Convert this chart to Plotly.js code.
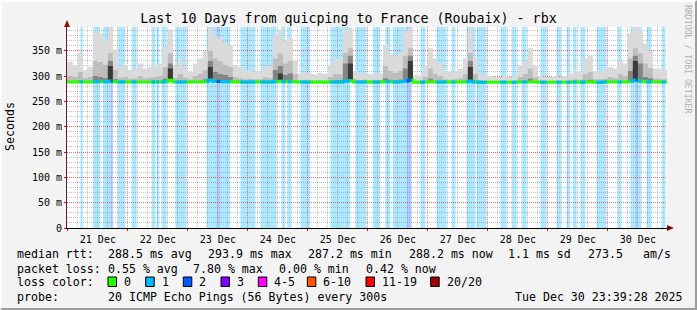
<!DOCTYPE html>
<html><head><meta charset="utf-8">
<script src="https://cdn.plot.ly/plotly-3.0.1.min.js"></script>
<style>
html,body{margin:0;padding:0;background:#f3f3f3}
#wrap{position:relative;width:697px;height:310px;overflow:hidden}
#chart{width:697px;height:310px}
#frame{position:absolute;left:0;top:0;width:697px;height:310px;box-sizing:border-box;border-top:2px solid #fcfcfc;border-left:2px solid #fcfcfc;border-right:2px solid #9c9c9c;border-bottom:2px solid #9c9c9c;pointer-events:none}
</style>
</head><body><div id="wrap"><div id="chart"></div><div id="frame"></div></div>
<script>
// ---- data (ms) : 2-hour bins starting 2025-12-20 22:00 ----
const binStartTime = '2025-12-20T22:00:00Z';
const binHours = 2;
const smokeMax = [
 328,328,320,346,312,318,390,385,371,395,
 352,318,322,312,315,325,315,318,322,325,
 360,392,320,335,318,308,325,335,350,395,
 380,375,365,360,322,318,310,312,308,310,
 320,318,380,392,370,375,330,305,308,305,
 303,306,304,320,335,334,392,395,310,305,
 306,304,306,305,362,345,340,345,390,395,
 302,300,320,355,335,325,310,308,310,315,
 335,392,335,305,302,300,298,298,300,298,
 300,322,330,355,320,300,298,298,300,298,
 300,305,310,308,335,340,310,310,312,318,
 315,330,325,385,397,390,365,350,315,315,
 312];
const smokeMid = [
 300,300,298,308,296,298,330,328,322,345,
 312,297,298,295,296,300,296,297,298,300,
 318,345,297,304,297,294,300,304,312,350,
 335,330,322,318,298,296,294,295,294,294,
 298,296,335,345,325,330,304,292,293,292,
 291,292,291,298,304,304,345,355,294,292,
 293,292,293,293,320,310,306,310,340,355,
 291,291,298,315,304,300,294,293,294,296,
 304,345,304,292,291,291,290.5,290.5,291,290.5,
 291,298,304,315,298,291,290.5,290.5,291,290.5,
 291,293,294,293,304,308,294,294,295,298,
 296,304,300,335,355,345,325,316,296,295,
 294];
const smokeDark = [
 290,290,289.5,292,289.5,289.5,300,298,296,330,
 294,289.5,289.5,289,289,290,289.5,289.5,289.5,290,
 295,325,289.5,291,289.5,289,289.5,291,294,330,
 308,304,302,298,289.5,289.5,289,289,289,289,
 289.5,289.5,312,320,302,305,291,289,289,289,
 289,289,289,290,292,292,325,340,289,289,
 289,289,289,289,296,293,291,293,315,340,
 289,289,290,295,291,290,289,289,289,289.5,
 291,330,291,289,289,289,289,289,289,289,
 289,290,291,295,290,289,289,289,289,289,
 289,289,290,289,291,293,289,289,289.5,290,
 289.5,291,290,310,340,325,298,296,289.5,289,
 289];
// darkest core of the smoke, only in the strongest spikes (bin index, top ms)
const coreBins = [9, 21, 29, 43, 57, 69, 81, 114];
const coreTop  = [320, 315, 318, 305, 325, 330, 318, 330];
const medianRtt = [
 288.5,288.5,288.4,288.6,288.5,288.5,289,289,289,290,
 288.8,288.5,288.5,288.4,288.4,288.5,288.5,288.4,288.5,288.5,
 289,292,288.6,288.5,288.4,288.3,288.4,288.5,289,292,
 290,289.5,289,289,288.5,288.4,288.3,288.3,288.3,288.3,
 288.4,288.4,289,290,289,289,288.6,288.2,288.2,288.2,
 288.1,288.2,288.1,288.4,288.6,288.6,290,291,288.3,288.2,
 288.2,288.1,288.2,288.2,289,288.8,288.6,288.8,290,292,
 288.1,288.1,288.3,288.6,288.4,288.3,288.2,288.2,288.2,288.3,
 288.6,290,288.5,288.1,288,288,288,288,288,288,
 288,288.2,288.4,288.6,288.2,288,288,288,288,288,
 288,288.1,288.2,288.1,288.4,288.5,288.1,288.1,288.2,288.3,
 288.2,288.4,288.4,289.5,292,290,288.8,288.6,288.2,288.2,
 288.2];
// loss periods: hours after 2025-12-21 00:00, and loss count
const lossStartH = [5,10,14,17,20,25.5,33.5,35.5,37.5,43, 55.5,59.5,61,69,77,85.5,88,93,105,115, 122,127,130,135.5,141,147.5,153.5,159.5,163.5,173, 177.5,181.5,189,195.5,199.5,202,205,211.5,220,225, 227,228,231.5,237.5];
const lossEndH   = [6,13,17,18,23,27.5,35,36.5,39.5,47.5, 59.5,61,65,75,83.5,87,89.5,97,113,119.5, 125,129,135.5,137.5,143,151.5,155,163,167.5,175.5, 179.5,183.5,191.5,197.5,201,203.5,207,215.5,221.5,227, 228,229.5,233.5,239];
const lossLevel  = [1,1,1,2,1,1,1,1,1,1, 1,2,1,1,1,1,1,1,1,1, 1,1,1,2,1,1,1,1,1,1, 1,1,1,1,1,1,1,1,1,1, 2,1,1,1];
const lossLegendLabels = ['0','1','2','3','4-5','6-10','11-19','20/20'];
const lossLegendColors = ['#26ff00','#00b8ff','#0059ff','#7e00ff','#ff00ff','#ff5500','#ff0000','#a10000'];
const lossBgColors = {1:'rgba(0,184,255,0.32)', 2:'rgba(0,89,255,0.32)'};
const yTickVals = [0,50,100,150,200,250,300,350];
const yTickText = ['0','50 m','100 m','150 m','200 m','250 m','300 m','350 m'];
const titleText = 'Last 10 Days from quicping to France (Roubaix) - rbx';
const statRtt  = ['median rtt:','288.5 ms avg','293.9 ms max','287.2 ms min','288.2 ms now','1.1 ms sd','273.5','am/s'];
const statLoss = ['packet loss:','0.55 % avg','7.80 % max','0.00 % min','0.42 % now'];
const probeText = ['probe:','20 ICMP Echo Pings (56 Bytes) every 300s','Tue Dec 30 23:39:28 2025'];

// ---- build ----
const H = 3600000;
const t0 = Date.parse('2025-12-21T00:00:00Z');
const tb = Date.parse(binStartTime);
const B = binHours * H;
const X = smokeMax.map((_, i) => tb + i * B).concat([tb + smokeMax.length * B]);
const ext = a => a.concat([a[a.length - 1]]);
const FONT = 'DejaVu Sans Mono, monospace';

const smokeCore = medianRtt.slice();
coreBins.forEach((b, i) => { smokeCore[b] = coreTop[i]; });

const traces = [];
function band(top, color) {
  traces.push({x: X, y: ext(medianRtt), mode: 'lines', line: {width: 0, shape: 'hv'}, hoverinfo: 'skip'});
  traces.push({x: X, y: ext(top), mode: 'lines', fill: 'tonexty', fillcolor: color, line: {width: 0, shape: 'hv'}, hoverinfo: 'skip'});
}
band(smokeMax, '#dadada');
band(smokeMid, '#bdbdbd');
band(smokeDark, '#858585');
band(smokeCore, '#3a3a3a');
traces.push({x: X, y: ext(medianRtt), mode: 'lines', line: {color: lossLegendColors[0], width: 3, shape: 'hv'}, hoverinfo: 'skip'});

const binOf = t => Math.max(0, Math.min(medianRtt.length - 1, Math.floor((t - tb) / B)));
[1, 2].forEach(L => {
  const xs = [], ys = [];
  lossStartH.forEach((s, i) => {
    if (lossLevel[i] !== L) return;
    const ts = t0 + s * H, te = t0 + lossEndH[i] * H;
    xs.push(ts); ys.push(medianRtt[binOf(ts)]);
    for (let b = Math.ceil((ts - tb) / B) * B + tb; b < te; b += B) {
      if (b > ts) { xs.push(b); ys.push(medianRtt[binOf(b)]); }
    }
    xs.push(te); ys.push(medianRtt[binOf(te - 1)]);
    xs.push(null); ys.push(null);
  });
  traces.push({x: xs, y: ys, mode: 'lines', line: {color: lossLegendColors[L], width: 3, shape: 'hv'}, hoverinfo: 'skip', connectgaps: false});
});

const shapes = lossStartH.map((s, i) => ({
  type: 'rect', layer: 'below', xref: 'x', yref: 'paper',
  x0: t0 + s * H, x1: t0 + lossEndH[i] * H, y0: 0, y1: 1,
  fillcolor: lossBgColors[lossLevel[i]], line: {width: 0}
}));

// page-pixel helpers for text/legend placement
const PL = 67, PW = 600, PB = 228, PH = 201;
const px = x => (x - PL) / PW;
const py = y => (PB - y) / PH;

// axis arrows
shapes.push({type: 'path', xref: 'paper', yref: 'paper', layer: 'above',
  path: `M ${px(64)} ${py(27)} L ${px(70)} ${py(27)} L ${px(67)} ${py(20)} Z`,
  fillcolor: '#8b1010', line: {width: 0}});
shapes.push({type: 'path', xref: 'paper', yref: 'paper', layer: 'above',
  path: `M ${px(667)} ${py(225)} L ${px(667)} ${py(231)} L ${px(674)} ${py(228)} Z`,
  fillcolor: '#8b1010', line: {width: 0}});
shapes.push({type: 'line', xref: 'paper', yref: 'paper', layer: 'above',
  x0: px(667), x1: px(670), y0: py(228), y1: py(228), line: {color: '#000', width: 1}});

const annotations = [];
function txt(x, y, t, opts) {
  annotations.push(Object.assign({xref: 'paper', yref: 'paper', x: px(x - 1), y: py(y), text: t,
    showarrow: false, xanchor: 'left', yanchor: 'middle',
    font: {family: FONT, size: 11.6, color: '#000'}}, opts || {}));
}
const rttX = [16, 107, 207, 307, 407.5, 506.5, 586.5, 641.5];
statRtt.forEach((t, i) => txt(rttX[i], 254, t));
const lossX = [16, 107, 192, 277.5, 365];
statLoss.forEach((t, i) => txt(lossX[i], 268.5, t));
txt(16, 282, 'loss color:');
const boxX = [108, 145.7, 183.3, 221, 258.3, 307.3, 366, 430.7];
lossLegendLabels.forEach((lab, i) => {
  shapes.push({type: 'rect', xref: 'paper', yref: 'paper', layer: 'above',
    x0: px(boxX[i]), x1: px(boxX[i] + 8.5), y0: py(286.5), y1: py(277),
    fillcolor: lossLegendColors[i], line: {color: '#000', width: 1}});
  txt(boxX[i] + 15, 282, lab);
});
txt(16, 296.5, probeText[0]);
txt(107, 296.5, probeText[1]);
txt(513.5, 296.5, probeText[2]);
annotations.push({xref: 'paper', yref: 'paper', x: px(10), y: py(127), text: 'Seconds', textangle: -90,
  showarrow: false, xanchor: 'center', yanchor: 'middle', font: {family: FONT, size: 11.6, color: '#000'}});
annotations.push({xref: 'paper', yref: 'paper', x: px(688), y: py(59), text: 'RRDTOOL / TOBI OETIKER', textangle: 90,
  showarrow: false, xanchor: 'center', yanchor: 'middle', font: {family: FONT, size: 8.2, color: '#b0b0b0'}});

const layout = {
  width: 697, height: 310,
  margin: {l: PL, r: 697 - PL - PW, t: 27, b: 310 - PB, pad: 0},
  paper_bgcolor: '#f3f3f3', plot_bgcolor: '#ffffff',
  font: {family: FONT, size: 10, color: '#000'},
  showlegend: false,
  title: {text: titleText, font: {family: FONT, size: 13.3, color: '#000'},
    x: 0.5, xref: 'container', xanchor: 'center', y: 1 - 18 / 310, yref: 'container', yanchor: 'middle'},
  xaxis: {type: 'date', range: ['2025-12-20 23:39:28', '2025-12-30 23:39:28'],
    tick0: '2025-12-21', dtick: 86400000, ticklabelmode: 'period', tickformat: '%d %b',
    showgrid: true, gridcolor: 'rgba(255,0,0,0.45)', griddash: '1px,1px', gridwidth: 1,
    ticks: 'outside', ticklen: 2, tickcolor: '#ff0000', tickwidth: 1,
    showline: true, linecolor: '#000', linewidth: 1, zeroline: false,
    minor: {dtick: 4 * H, tick0: '2025-12-21', showgrid: true, gridcolor: 'rgba(128,128,128,0.45)', griddash: '1px,1px', gridwidth: 1},
    tickfont: {family: FONT, size: 10, color: '#000'}, fixedrange: true},
  yaxis: {range: [0, 397], tickmode: 'array', tickvals: yTickVals, ticktext: yTickText,
    showgrid: true, gridcolor: 'rgba(255,0,0,0.45)', griddash: '1px,1px', gridwidth: 1,
    ticks: 'outside', ticklen: 2, tickcolor: '#ff0000',
    showline: true, linecolor: '#5a2020', linewidth: 1, zeroline: false,
    minor: {dtick: 10, tick0: 0, showgrid: true, gridcolor: 'rgba(128,128,128,0.45)', griddash: '1px,1px', gridwidth: 1},
    tickfont: {family: FONT, size: 10, color: '#000'}, fixedrange: true},
  shapes: shapes, annotations: annotations
};
Plotly.newPlot('chart', traces, layout, {staticPlot: true, displayModeBar: false});
</script></body></html>
